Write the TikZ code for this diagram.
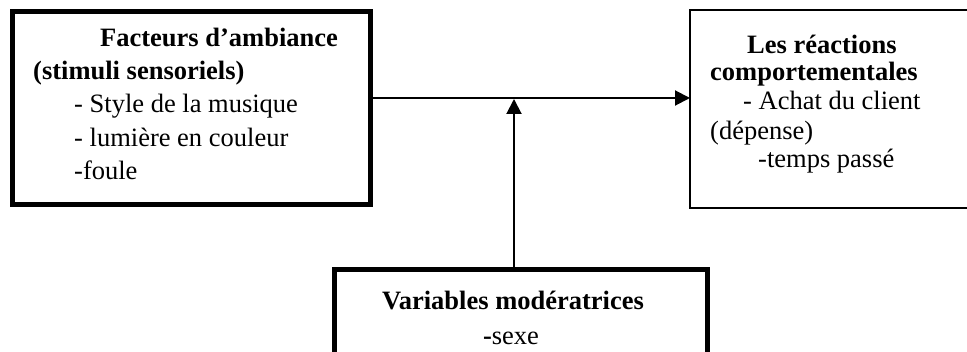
\documentclass[tikz,border=0pt]{standalone}
\usepackage{fontspec}
\setmainfont{Liberation Serif}
\usetikzlibrary{arrows.meta, positioning}

\begin{document}
\begin{tikzpicture}[x=1pt, y=-1pt,
  heavybox/.style={draw, line width=5pt, inner sep=0pt, outer sep=0pt, anchor=north west},
  lightbox/.style={draw, line width=2pt, inner sep=0pt, outer sep=0pt, anchor=north west},
  txt/.style={font=\fontsize{26.5}{30}\selectfont, inner sep=0pt, anchor=base west},
  flow/.style={line width=2pt, -{Triangle[length=15pt, width=15pt]}}]

  \useasboundingbox (0,0) rectangle (967,352);
  \clip (0,0) rectangle (967,352);

  %% Boxes
  \node[heavybox, minimum width=357.5pt, minimum height=193pt] (fact) at (12.5,12) {};
  \node[lightbox, minimum width=300pt, minimum height=198pt] (react) at (690,10) {};
  \node[heavybox, minimum width=373pt, minimum height=120pt] (moder) at (334.5,270) {};

  %% Texts, one node per line
  \foreach \x/\y/\t [count=\k] in {
    100/47/{\textbf{Facteurs d’ambiance}},
    33/80/{\textbf{(stimuli sensoriels)}},
    74/113/{- Style de la musique},
    74/147/{- lumière en couleur},
    74/180/{-foule}
  }{
    \node[txt] (fact-\k) at (\x,\y) {\t};
  }
  \foreach \x/\y/\t [count=\k] in {
    747/54/{\textbf{Les réactions}},
    710/81/{\textbf{comportementales}},
    743/110/{- Achat du client},
    710/140/{(dépense)},
    758/168/{-temps passé}
  }{
    \node[txt] (react-\k) at (\x,\y) {\t};
  }
  \node[txt, anchor=base] (moder-1) at (513,310) {\textbf{Variables modératrices}};
  \node[txt, anchor=base] (moder-2) at (511,345) {\textbf{-}sexe};

  %% Connectors
  \coordinate (jn) at (514,98);
  \draw[flow] (fact.east |- jn) -- (react.west |- jn);
  \draw[flow] (moder.north -| jn) -- ([yshift=-1pt]jn);

\end{tikzpicture}
\end{document}
